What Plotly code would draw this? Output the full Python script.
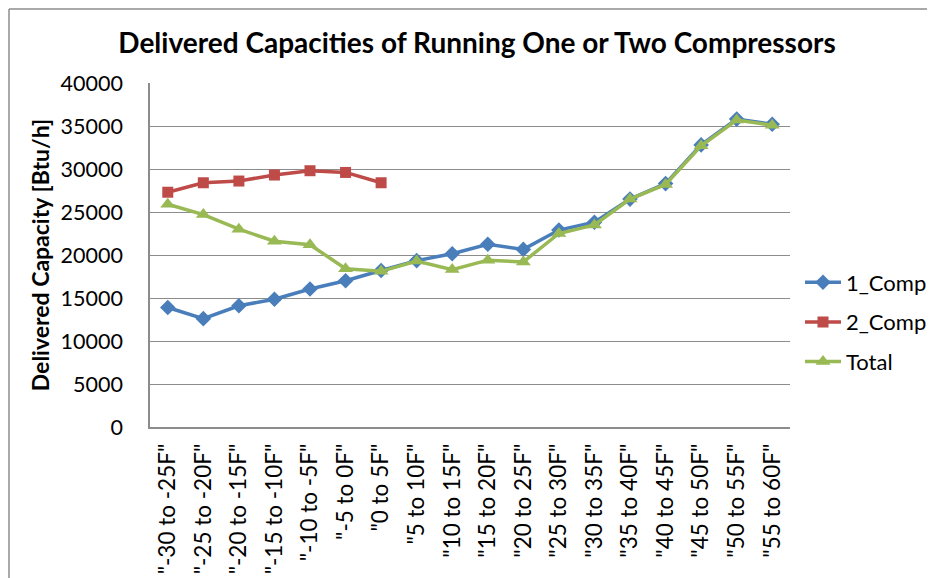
import plotly.graph_objects as go

categories = ['"-30 to -25F"', '"-25 to -20F"', '"-20 to -15F"', '"-15 to -10F"', '"-10 to -5F"',
              '"-5 to 0F"', '"0 to 5F"', '"5 to 10F"', '"10 to 15F"', '"15 to 20F"', '"20 to 25F"',
              '"25 to 30F"', '"30 to 35F"', '"35 to 40F"', '"40 to 45F"', '"45 to 50F"',
              '"50 to 55F"', '"55 to 60F"']

comp1 = [13900, 12600, 14100, 14850, 16050, 17000, 18200, 19350, 20150, 21250, 20650,
         22900, 23800, 26500, 28300, 32800, 35800, 35200]
comp2 = [27300, 28400, 28600, 29300, 29800, 29600, 28400]
total = [25900, 24700, 23000, 21600, 21200, 18400, 18100, 19300, 18300, 19400, 19200,
         22500, 23500, 26500, 28200, 32700, 35700, 35100]

FONT = "Lato"
fig = go.Figure()
fig.add_trace(go.Scatter(x=categories, y=comp1, name="1_Comp", mode="lines+markers",
                         line=dict(color="#4A7EBB", width=3.5),
                         marker=dict(symbol="diamond", size=12, color="#4A7EBB"),
                         legendgroup="a"))
fig.add_trace(go.Scatter(x=categories[:len(comp2)], y=comp2, name="2_Comp", mode="lines+markers",
                         line=dict(color="#BE4B48", width=3.5),
                         marker=dict(symbol="square", size=11, color="#BE4B48"),
                         legendgroup="b"))
fig.add_trace(go.Scatter(x=categories, y=total, name="Total", mode="lines+markers",
                         line=dict(color="#98B954", width=3.5),
                         marker=dict(symbol="triangle-up", size=13, color="#98B954"),
                         legendgroup="c"))

# page body adds an 8px offset; plot area on screen: x 150..790, y 83..427
fig.update_layout(
    width=935, height=578,
    margin=dict(l=142, r=153, t=75, b=159, autoexpand=False),
    paper_bgcolor="white", plot_bgcolor="white",
    font=dict(family=FONT, size=21, color="black"),
    title=dict(text="<b>Delivered Capacities of Running One or Two Compressors</b>",
               x=469 / 935, xanchor="center", y=1 - 35 / 578, yanchor="middle",
               font=dict(family=FONT, size=28, color="black")),
    showlegend=True,
    legend=dict(x=(800 - 150) / 640, xanchor="left", y=(427 - 322) / 344, yanchor="middle",
                font=dict(family=FONT, size=22), tracegroupgap=8, itemwidth=36,
                bgcolor="rgba(0,0,0,0)"),
    shapes=[
        dict(type="line", xref="paper", yref="paper", x0=(9 - 150) / 640, x1=(9 - 150) / 640,
             y0=(427 - 9) / 344, y1=(427 - 600) / 344, line=dict(color="#8C8C8C", width=1.5)),
        dict(type="line", xref="paper", yref="paper", x0=(9 - 150) / 640, x1=(940 - 150) / 640,
             y0=(427 - 9) / 344, y1=(427 - 9) / 344, line=dict(color="#8C8C8C", width=1.5)),
    ],
)
fig.update_xaxes(type="category", tickangle=-90, showgrid=False, showline=True,
                 linecolor="#8C8C8C", linewidth=1.5, ticks="", ticklabelstandoff=6,
                 automargin=False,
                 tickfont=dict(family=FONT, size=22.5), range=[-0.5, len(categories) - 0.5])
fig.update_yaxes(range=[0, 40000], dtick=5000, showgrid=True, gridcolor="#8C8C8C", gridwidth=1,
                 showline=True, linecolor="#8C8C8C", linewidth=1.5, ticks="",
                 ticklabelstandoff=21, zeroline=False, tickformat="d", automargin=False,
                 tickfont=dict(family=FONT, size=21.5),
                 title=dict(text="<b>Delivered Capacity [Btu/h]</b>", standoff=5,
                            font=dict(family=FONT, size=23)))

fig.write_html("out.html")
